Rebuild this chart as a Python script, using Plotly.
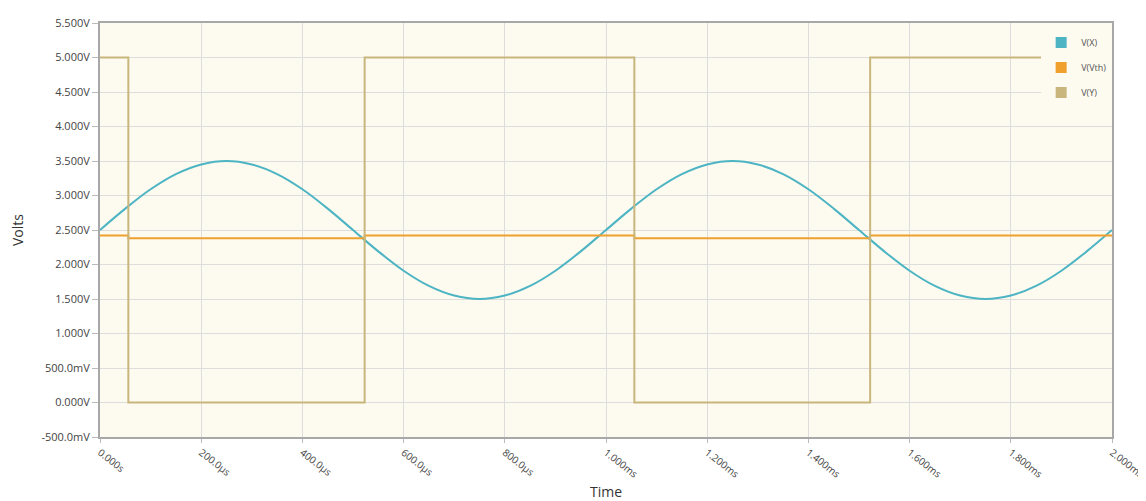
import plotly.graph_objects as go

# Time axis (ms)
t_x = [i * 0.05 for i in range(41)]
v_x = [2.50, 2.81, 3.09, 3.31, 3.45, 3.50, 3.45, 3.31, 3.09, 2.81,
       2.50, 2.19, 1.91, 1.69, 1.55, 1.50, 1.55, 1.69, 1.91, 2.19,
       2.50, 2.81, 3.09, 3.31, 3.45, 3.50, 3.45, 3.31, 3.09, 2.81,
       2.50, 2.19, 1.91, 1.69, 1.55, 1.50, 1.55, 1.69, 1.91, 2.19, 2.50]

t_edges = [0.0, 0.056, 0.523, 1.056, 1.522, 2.0]
v_vth = [2.42, 2.38, 2.42, 2.38, 2.42, 2.42]
v_y = [5.0, 0.0, 5.0, 0.0, 5.0, 5.0]

x_tickvals = [0, 0.2, 0.4, 0.6, 0.8, 1.0, 1.2, 1.4, 1.6, 1.8, 2.0]
x_ticktext = ["0.000s", "200.0μs", "400.0μs", "600.0μs", "800.0μs", "1.000ms",
              "1.200ms", "1.400ms", "1.600ms", "1.800ms", "2.000ms"]
y_tickvals = [-0.5, 0, 0.5, 1.0, 1.5, 2.0, 2.5, 3.0, 3.5, 4.0, 4.5, 5.0, 5.5]
y_ticktext = ["-500.0mV", "0.000V", "500.0mV", "1.000V", "1.500V", "2.000V", "2.500V",
              "3.000V", "3.500V", "4.000V", "4.500V", "5.000V", "5.500V"]

names = ["V(X)", "V(Vth)", "V(Y)"]
colors = ["#4db4c4", "#f0a02c", "#c8b67c"]

fig = go.Figure()
fig.add_trace(go.Scatter(x=t_x, y=v_x, mode="lines", line=dict(color=colors[0], width=2, shape="spline"),
                         showlegend=False))
fig.add_trace(go.Scatter(x=t_edges, y=v_vth, mode="lines", line=dict(color=colors[1], width=2, shape="hv"),
                         showlegend=False))
fig.add_trace(go.Scatter(x=t_edges, y=v_y, mode="lines", line=dict(color=colors[2], width=2, shape="hv"),
                         showlegend=False))
for n, c in zip(names, colors):
    fig.add_trace(go.Scatter(x=[None], y=[None], mode="markers", name=n, legendgroup=n,
                             marker=dict(symbol="square", size=11, color=c)))

fig.update_layout(
    width=1138, height=493,
    margin=dict(l=92, r=34, t=15, b=64),
    paper_bgcolor="white",
    plot_bgcolor="#fdfbef",
    font=dict(family="Open Sans", color="#444", size=11),
    legend=dict(x=0.93, y=0.988, xanchor="left", yanchor="top", bgcolor="#fdfbef",
                font=dict(size=9, color="#555"), tracegroupgap=6, itemwidth=30),
    xaxis=dict(range=[0, 2.0], tickvals=x_tickvals, ticktext=x_ticktext, tickangle=38,
               showgrid=True, gridcolor="#dddddd", gridwidth=1, zeroline=False,
               showline=True, linecolor="#a8a8a8", linewidth=2, mirror=True,
               ticks="outside", ticklen=4, tickcolor="#bbbbbb",
               tickfont=dict(size=10, color="#444"), ticklabeloverflow="allow",
               automargin=False),
    yaxis=dict(range=[-0.5, 5.5], tickvals=y_tickvals, ticktext=y_ticktext,
               showgrid=True, gridcolor="#dddddd", gridwidth=1, zeroline=False,
               showline=True, linecolor="#a8a8a8", linewidth=2, mirror=True,
               ticks="outside", ticklen=6, tickcolor="#bbbbbb",
               tickfont=dict(size=11, color="#444"),
               title=dict(text="Volts", font=dict(size=14, color="#333"), standoff=20),
               automargin=False),
    annotations=[dict(text="Time", x=0.5, y=-0.132, xref="paper", yref="paper",
                      xanchor="center", yanchor="middle", showarrow=False,
                      font=dict(size=14, color="#333"))],
)

fig.write_html("out.html")
